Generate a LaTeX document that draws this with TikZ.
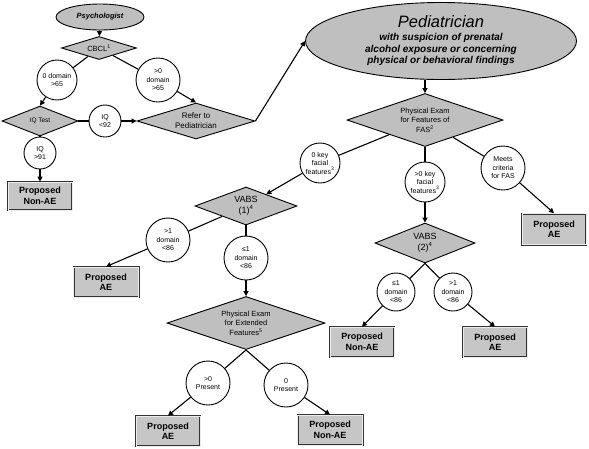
\documentclass[tikz,border=0pt]{standalone}
\usepackage{fontspec}
\setmainfont{Liberation Sans}
\usetikzlibrary{shapes.geometric,arrows.meta}

\begin{document}
\begin{tikzpicture}[
    x=1pt, y=-1pt,
    every node/.style={
        draw, line width=0.9pt,
        inner sep=0pt,
        align=center
    },
    choice/.style={diamond, fill=gray!50, aspect=3,
        font=\fontsize{7.5}{9.5}\selectfont},
    crit/.style={circle, fill=white, minimum size=42pt,
        font=\fontsize{7}{8.5}\selectfont},
    outcome/.style={rectangle, fill=gray!45, draw=black!80,
        line width=0.7pt, double=gray!15, double distance=0.6pt,
        minimum width=64pt, minimum height=30pt,
        font=\fontsize{9}{10.5}\selectfont\bfseries},
    role/.style={ellipse, fill=gray!50},
    link/.style={line width=1.1pt},
    flow/.style={link, -{Triangle[length=5pt,width=5pt]}}
]
\useasboundingbox (0,0) rectangle (589,448);

\node[role, minimum width=88pt, minimum height=26pt,
    font=\fontsize{7.5}{9}\selectfont\bfseries\itshape] (psy) at (100,17) {Psychologist};
\node[choice, minimum width=75pt, minimum height=23pt] (cbcl) at (99,48) {CBCL\textsuperscript{1}};
\node[crit, minimum size=40pt] (cA) at (57,80) {0 domain\\>65};
\node[crit, minimum size=44pt] (cB) at (158,80) {>0\\domain\\>65};
\node[choice, minimum width=76pt, minimum height=30pt,
    font=\fontsize{6.5}{8}\selectfont] (iq) at (40,121) {IQ Test};
\node[choice, minimum width=118pt, minimum height=36pt,
    font=\fontsize{8}{10}\selectfont] (refer) at (196,121) {Refer to\\Pediatrician};
\node[crit, minimum size=32pt] (cC) at (105,121) {IQ\\<92};
\node[crit, minimum size=32pt] (cD) at (40,153) {IQ\\>91};
\node[outcome, minimum height=28pt] (nae1) at (40,196) {Proposed\\Non-AE};

\node[role, minimum width=271pt, minimum height=77pt, inner ysep=-8pt,
    font=\fontsize{10}{11.7}\selectfont\bfseries\itshape] (ped) at (441,41)
    {{\mdseries\fontsize{16.5}{17}\selectfont Pediatrician}\\[1pt]with suspicion of prenatal\\alcohol exposure or concerning\\physical or behavioral findings};
\node[choice, minimum width=156pt, minimum height=53pt] (fas) at (425,120)
    {Physical Exam\\for Features of\\FAS\textsuperscript{2}};
\node[crit, minimum size=40pt] (cE) at (320,163) {0 key\\facial\\features\textsuperscript{3}};
\node[crit, minimum size=40pt] (cF) at (425,182) {>0 key\\facial\\features\textsuperscript{3}};
\node[crit, minimum size=44pt] (cG) at (503,168) {Meets\\criteria\\for FAS};
\node[outcome, minimum height=31pt] (ae1) at (554,229) {Proposed\\AE};

\node[choice, minimum width=100pt, minimum height=40pt,
    font=\fontsize{9}{11}\selectfont] (vabsb) at (425,243) {VABS\\(2)\textsuperscript{4}};
\node[crit, minimum size=38pt] (cH) at (396,292) {≤1\\domain\\<86};
\node[crit, minimum size=38pt] (cI) at (453,292) {>1\\domain\\<86};
\node[outcome] (nae2) at (362,342) {Proposed\\Non-AE};
\node[outcome] (ae2) at (495,342) {Proposed\\AE};

\node[choice, minimum width=102pt, minimum height=38pt,
    font=\fontsize{9}{11}\selectfont] (vabsa) at (246,206) {VABS\\(1)\textsuperscript{4}};
\node[crit, minimum size=44pt] (cJ) at (168,240) {>1\\domain\\<86};
\node[crit, minimum size=44pt] (cK) at (246,258) {≤1\\domain\\<86};
\node[outcome, minimum width=65pt] (ae3) at (106,282) {Proposed\\AE};
\node[choice, minimum width=158pt, minimum height=53pt] (ext) at (246,323)
    {Physical Exam\\for Extended\\Features\textsuperscript{5}};
\node[crit, minimum size=44pt] (cL) at (208,383) {>0\\Present};
\node[crit, minimum size=44pt] (cM) at (286,385) {0\\Present};
\node[outcome] (ae4) at (168,431) {Proposed\\AE};
\node[outcome, minimum width=65pt] (nae3) at (330,430) {Proposed\\Non-AE};

\draw[flow] (psy) -- (cbcl);
\draw[link] (cbcl) -- (cA);
\draw[flow] (cA) -- (iq.north);
\draw[link] (cbcl) -- (cB);
\draw[flow] (cB) -- (refer.north);
\draw[link] (iq) -- (cC);
\draw[flow] (cC) -- (refer.west);
\draw[link] (iq) -- (cD);
\draw[flow] (cD) -- (nae1.north);
\draw[flow] (refer.east) -- (ped.west);

\draw[flow] (ped.south -| fas.north) -- (fas.north);
\draw[link] (fas) -- (cE);
\draw[flow] (cE) -- (vabsa);
\draw[link] (fas) -- (cF);
\draw[flow] (cF) -- (vabsb.north);
\draw[link] (fas) -- (cG);
\draw[flow] (cG) -- (ae1.north);

\draw[link] (vabsb.south) -- (cH);
\draw[flow] (cH) -- (nae2.north);
\draw[link] (vabsb.south) -- (cI);
\draw[flow] (cI) -- (ae2.north);

\draw[link] (vabsa) -- (cJ);
\draw[flow] (cJ) -- (ae3.north);
\draw[link] (vabsa) -- (cK);
\draw[flow] (cK) -- (ext.north);
\draw[link] (ext.south) -- (cL);
\draw[flow] (cL) -- (ae4.north);
\draw[link] (ext.south) -- (cM);
\draw[flow] (cM) -- (nae3.north);
\end{tikzpicture}
\end{document}
